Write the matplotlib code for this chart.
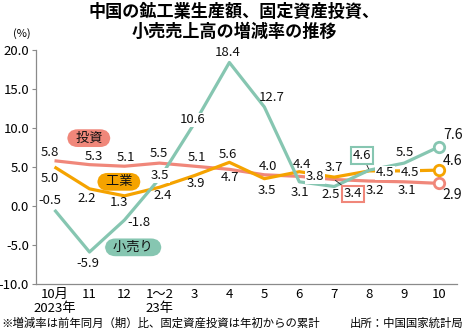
import matplotlib
matplotlib.use("Agg")
import matplotlib.pyplot as plt
from matplotlib import font_manager

# ---------------- data ----------------
categories = ["10月\n2023年", "11", "12", "1〜2\n23年", "3", "4", "5", "6", "7", "8", "9", "10"]
retail = [-0.5, -5.9, -1.8, 3.5, 10.6, 18.4, 12.7, 3.1, 2.5, 4.6, 5.5, 7.6]
industry = [5.0, 2.2, 1.3, 2.4, 3.9, 5.6, 3.5, 4.4, 3.7, 4.5, 4.5, 4.6]
investment = [5.8, 5.3, 5.1, 5.5, 5.1, 4.7, 4.0, 3.8, 3.4, 3.2, 3.1, 2.9]
yticks = [-10, -5, 0, 5, 10, 15, 20]

title = "中国の鉱工業生産額、固定資産投資、\n小売売上高の増減率の推移"
note = "※増減率は前年同月（期）比、固定資産投資は年初からの累計"
source = "出所：中国国家統計局"

# ---------------- style ----------------
C_RET = "#86c6b1"
C_IND = "#f5a300"
C_INV = "#f0877a"
GREY = "#8a8a8a"

names = {f.name for f in font_manager.fontManager.ttflist}
NUM = "Liberation Sans Narrow" if "Liberation Sans Narrow" in names else "Noto Sans CJK JP"
JP = "Noto Sans CJK JP"
plt.rcParams["font.family"] = [NUM, JP, "DejaVu Sans"]

fig = plt.figure(figsize=(4.65, 3.35), dpi=100)
W, H = 465, 335
ax = fig.add_axes([36 / W, 1 - 284 / H, (457 - 36) / W, (284 - 50) / H])

x = list(range(len(categories)))
ax.plot(x, investment, color=C_INV, lw=2.3, zorder=2, solid_capstyle="butt")
ax.plot(x, industry, color=C_IND, lw=2.3, zorder=3, solid_capstyle="butt")
ax.plot(x, retail, color=C_RET, lw=2.3, zorder=4, solid_capstyle="butt")
for s, c in ((investment, C_INV), (industry, C_IND), (retail, C_RET)):
    ax.plot([x[-1]], [s[-1]], "o", ms=7.5, mfc="white", mec=c, mew=2.0, zorder=5)

ax.set_xlim(-0.53, 11.51)
ax.set_ylim(-10, 20)
ax.set_yticks(yticks)
ax.set_yticklabels([f"{v:.1f}" for v in yticks], fontsize=9.5)
ax.set_xticks(x)
ax.set_xticklabels(categories, fontsize=9.5, linespacing=1.05)
ax.tick_params(axis="x", length=0, pad=3)
ax.tick_params(axis="y", length=3, width=0.8, color=GREY, pad=2)
for sp in ("top", "right"):
    ax.spines[sp].set_visible(False)
for sp in ("left", "bottom"):
    ax.spines[sp].set_color(GREY)
    ax.spines[sp].set_linewidth(0.9)

# data labels: (dx, dy) pixel offsets from each point, and a flag for white background
ret_off = [(-5, 9), (-2, -11), (14, -2), (0.5, 3), (-1.5, 3.5), (-1.5, 9.5),
           (7.5, 9), (0.5, -11), (-4, -8.5), None, (1, 11), None]
ind_off = [(-4.5, -11), (-2.5, -10), (-5.5, -7), (3.5, -8), (1.5, -7.5), (-1.5, 8),
           (2.5, -12), (2.5, 7), (0, 10), (16, -2), (6, -2), None]
inv_off = [(-4.5, 8), (4.5, 8), (1.5, 8.5), (-0.5, 10), (2.5, 9), (0.5, -8.5),
           (3.5, 8), (15.5, -0.5), None, (6, -9), (3, -9), None]
ret_white = {3, 4}
ind_white = {9, 10}
inv_white = {7}

def labels(series, offs, white):
    for i, (v, o) in enumerate(zip(series, offs)):
        if o is None:
            continue
        kw = {}
        if i in white:
            kw["bbox"] = dict(fc="white", ec="none", pad=0.6)
        ax.annotate(f"{v:.1f}", (x[i], v), xytext=o, textcoords="offset pixels",
                    ha="center", va="center", fontsize=9.5, color="#111111",
                    zorder=6, **kw)

labels(retail, ret_off, ret_white)
labels(industry, ind_off, ind_white)
labels(investment, inv_off, inv_white)

# last-point labels (bigger)
for s, o in ((retail, (4, 12)), (industry, (4, 9)), (investment, (3, -12))):
    ax.annotate(f"{s[-1]:.1f}", (x[-1], s[-1]), xytext=o, textcoords="offset pixels",
                ha="left", va="center", fontsize=10.2, color="#111111", zorder=6,
                annotation_clip=False)

# boxed labels with leader lines
ax.annotate(f"{retail[9]:.1f}", (x[9], retail[9]), xytext=(-7, 15), textcoords="offset pixels",
            ha="center", va="center", fontsize=9.5, color="#111111", zorder=7,
            bbox=dict(boxstyle="square,pad=0.15", fc="white", ec=C_RET, lw=1.5),
            arrowprops=dict(arrowstyle="-", color="#222222", lw=0.6, shrinkA=0, shrinkB=1))
ax.annotate(f"{investment[8]:.1f}", (x[8], investment[8]), xytext=(19, -14.5), textcoords="offset pixels",
            ha="center", va="center", fontsize=9.5, color="#111111", zorder=7,
            bbox=dict(boxstyle="square,pad=0.15", fc="white", ec=C_INV, lw=1.5),
            arrowprops=dict(arrowstyle="-", color="#222222", lw=0.6, shrinkA=0, shrinkB=1))

# series name tags
for txt, xx, yy, c in (("投資", 0.98, 8.7, C_INV), ("工業", 1.84, 3.1, C_IND), ("小売り", 2.25, -5.3, C_RET)):
    ax.text(xx, yy, "  " + txt + "  ", ha="center", va="center", fontsize=9.5, family=JP,
            color="#111111", zorder=7,
            bbox=dict(boxstyle="round,pad=0.18,rounding_size=0.8", fc=c, ec="none"))

# texts outside the axes
fig.text(234 / W, 1 - 22 / H, title, ha="center", va="center", fontsize=12.3,
         fontweight="bold", family=JP, linespacing=1.1)
fig.text(22 / W, 1 - 34 / H, "(%)", ha="center", va="center", fontsize=8)
fig.text(1 / W, 1 - 323 / H, note, ha="left", va="center", fontsize=8.2, family=JP)
fig.text(463 / W, 1 - 323 / H, source, ha="right", va="center", fontsize=8.2, family=JP)

fig.savefig("out.png", dpi=100)
